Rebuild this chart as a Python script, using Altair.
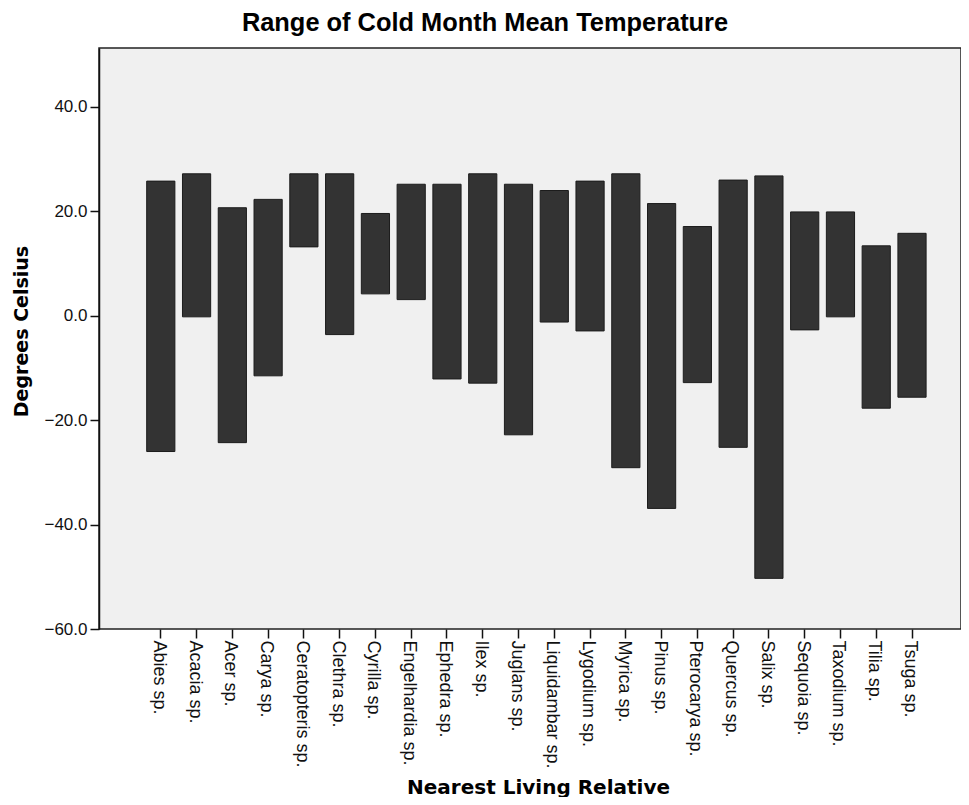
import altair as alt
import pandas as pd

taxa = ["Abies sp.", "Acacia sp.", "Acer sp.", "Carya sp.", "Ceratopteris sp.",
        "Clethra sp.", "Cyrilla sp.", "Engelhardia sp.", "Ephedra sp.", "Ilex sp.",
        "Juglans sp.", "Liquidambar sp.", "Lygodium sp.", "Myrica sp.", "Pinus sp.",
        "Pterocarya sp.", "Quercus sp.", "Salix sp.", "Sequoia sp.", "Taxodium sp.",
        "Tilia sp.", "Tsuga sp."]
low = [-26.0, -0.2, -24.3, -11.5, 13.2, -3.6, 4.2, 3.1, -12.1, -12.9, -22.8,
       -1.2, -2.9, -29.1, -36.9, -12.8, -25.2, -50.3, -2.7, -0.2, -17.7, -15.6]
high = [25.8, 27.2, 20.7, 22.3, 27.2, 27.2, 19.6, 25.2, 25.2, 27.2, 25.2,
        24.0, 25.8, 27.2, 21.5, 17.1, 26.0, 26.8, 19.9, 19.9, 13.4, 15.8]
y_ticks = [-60, -40, -20, 0, 20, 40]

df = pd.DataFrame({"taxon": taxa, "low": low, "high": high})

PLOT_W, PLOT_H = 862, 581

chart = alt.Chart(df).mark_bar(
    color="#333333", stroke="#1c1c1c", strokeWidth=1
).encode(
    x=alt.X(
        "taxon:N",
        sort=None,
        scale=alt.Scale(paddingInner=0.212, paddingOuter=0, range=[47.7, 827.1]),
        axis=alt.Axis(
            title="Nearest Living Relative",
            domain=False,
            labelAngle=90, labelAlign="left", labelBaseline="middle",
            labelOffset=-2, labelPadding=2, tickSize=9, tickWidth=1.5,
            tickColor="#111111",
            labelFont="Liberation Sans", labelFontSize=18, labelColor="#111111",
            titleFont="DejaVu Sans", titleFontSize=20, titleFontWeight="bold",
            titleColor="#000000", titleX=439, titleY=164,
            titleAlign="center", titleBaseline="alphabetic", labelOverlap=False,
        ),
    ),
    y=alt.Y(
        "low:Q",
        scale=alt.Scale(domain=[-60, 51.3], nice=False, zero=False),
        axis=alt.Axis(
            title="Degrees Celsius", values=y_ticks, format=".1f",
            grid=False, tickSize=9, tickWidth=1.5, labelPadding=3,
            tickColor="#111111", domainColor="#111111", domainWidth=1.5,
            labelFont="Liberation Sans", labelFontSize=17, labelColor="#111111",
            titleFont="DejaVu Sans", titleFontSize=19, titleFontWeight="bold",
            titleColor="#000000", titleAngle=270, titleX=-78, titleY=283,
            titleAlign="center", titleBaseline="middle",
        ),
    ),
    y2="high:Q",
).properties(
    width=PLOT_W,
    height=PLOT_H,
    title=alt.TitleParams(
        "Range of Cold Month Mean Temperature",
        font="Liberation Sans", fontSize=25.4, fontWeight="bold", color="#000000",
        anchor="middle", frame="group", baseline="alphabetic", offset=18,
        dx=-45, dy=26,
    ),
    padding={"left": 91, "top": 40, "right": 0, "bottom": 168},
    autosize=alt.AutoSizeParams(type="none"),
).configure_view(
    fill="#F0F0F0", stroke="#222222", strokeWidth=1.5
)

chart.save("out.html", embed_options={"renderer": "svg", "actions": False})
